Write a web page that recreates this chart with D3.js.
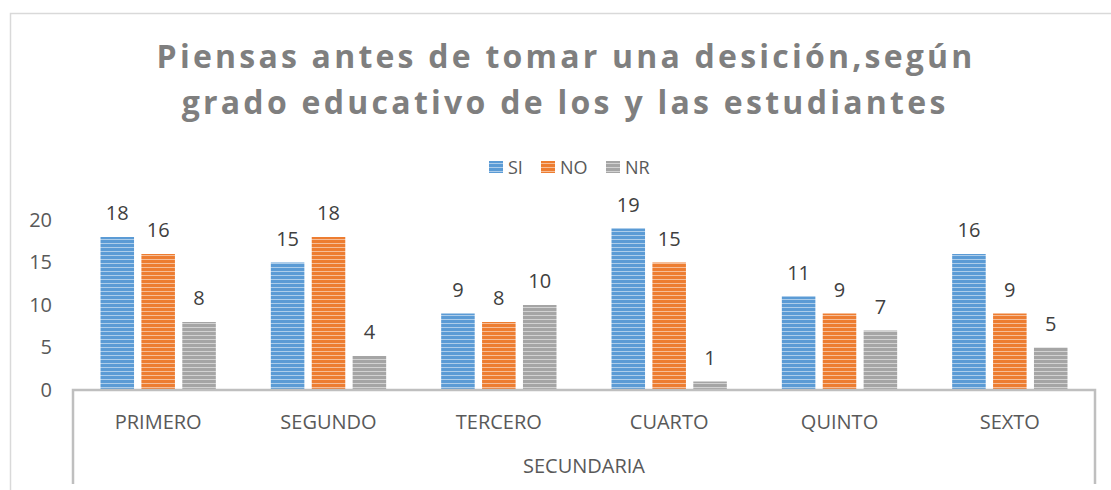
<!DOCTYPE html>
<html><head><meta charset="utf-8">
<script src="https://cdn.jsdelivr.net/npm/d3@7"></script>
<style>body{margin:0;background:#fff}svg{display:block}</style>
</head><body>
<svg id="c" width="1111" height="490"></svg>
<script>
const categories = ["PRIMERO","SEGUNDO","TERCERO","CUARTO","QUINTO","SEXTO"];
const seriesNames = ["SI","NO","NR"];
const siValues = [18,15,9,19,11,16];
const noValues = [16,18,8,15,9,9];
const nrValues = [8,4,10,1,7,5];
const yTicks = [0,5,10,15,20];
const groupLabel = "SECUNDARIA";
const titleLines = ["Piensas antes de tomar una desición,según","grado educativo de los y las estudiantes"];

const colors = {SI:"#5b9bd5", NO:"#ed7d31", NR:"#a5a5a5"};
const values = {SI:siValues, NO:noValues, NR:nrValues};
const svg = d3.select("#c");
const font = "'Open Sans', sans-serif";

// patterns
const defs = svg.append("defs");
seriesNames.forEach(s => {
  const p = defs.append("pattern").attr("id","p"+s).attr("patternUnits","userSpaceOnUse")
    .attr("width",8).attr("height",4);
  p.append("rect").attr("width",8).attr("height",4).attr("fill",colors[s]);
  p.append("rect").attr("y",3).attr("width",8).attr("height",1).attr("fill","#fff").attr("opacity",0.5);
});

// chart border
svg.append("rect").attr("x",10.5).attr("y",13.5).attr("width",1200).attr("height",600)
  .attr("fill","none").attr("stroke","#d9d9d9").attr("stroke-width",1.5);

// title
const titleTargets = [[155,974],[180,947]];
const titleY = [68,114];
titleLines.forEach((t,i) => {
  const el = svg.append("text").attr("x",(titleTargets[i][0]+titleTargets[i][1])/2).attr("y",titleY[i])
    .attr("text-anchor","middle").attr("font-family",font).attr("font-weight","bold")
    .attr("font-size",32).attr("fill","#7f7f7f").text(t);
  const w = el.node().getComputedTextLength();
  const target = titleTargets[i][1]-titleTargets[i][0];
  const ls = (target - w)/(t.length);
  el.attr("letter-spacing",ls).attr("dx", ls/2);
});

// legend
const legendItems = [{s:"SI",x:489},{s:"NO",x:541},{s:"NR",x:606}];
legendItems.forEach(d => {
  svg.append("rect").attr("x",d.x).attr("y",161).attr("width",14).attr("height",12).attr("fill","url(#p"+d.s+")");
  svg.append("text").attr("x",d.x+19).attr("y",174).attr("font-family",font).attr("font-size",18)
    .attr("fill","#595959").text(d.s);
});

// scales
const left = 73, right = 1095, base = 390;
const y = d3.scaleLinear().domain([0,20]).range([base,220]);
const x0 = d3.scaleBand().domain(categories).range([left,right]);
const x1 = d3.scaleBand().domain(seriesNames).range([27.5, x0.bandwidth()-27.5]).paddingInner(0.18);

// y axis labels
const yAxis = d3.axisLeft(y).tickValues(yTicks).tickSize(0).tickPadding(0);
const ya = svg.append("g").attr("transform","translate(52,0)").call(yAxis);
ya.select(".domain").remove();
ya.selectAll("text").attr("font-family",font).attr("font-size",20).attr("fill","#595959");

// bars
const g = svg.append("g");
categories.forEach((c,ci) => {
  seriesNames.forEach(s => {
    const v = values[s][ci];
    const bx = x0(c)+x1(s);
    g.append("rect").attr("x",bx).attr("y",y(v)).attr("width",x1.bandwidth()).attr("height",base-y(v))
      .attr("fill","url(#p"+s+")");
    g.append("text").attr("x",bx+x1.bandwidth()/2).attr("y",y(v)-17).attr("text-anchor","middle")
      .attr("font-family",font).attr("font-size",20).attr("fill","#404040").text(v);
  });
});

// x axis: baseline and group box
const xAxis = d3.axisBottom(x0).tickSize(0).tickPadding(0);
const xa = svg.append("g").attr("transform",`translate(0,${base})`).call(xAxis);
xa.select(".domain").remove();
xa.selectAll("text").attr("dy",0).attr("y",39).attr("font-family",font).attr("font-size",20).attr("fill","#595959");

svg.append("path").attr("d",`M${left},484V${base}H${right}V484`).attr("fill","none")
  .attr("stroke","#bfbfbf").attr("stroke-width",2.5);

svg.append("text").attr("x",(left+right)/2).attr("y",473).attr("text-anchor","middle")
  .attr("font-family",font).attr("font-size",20).attr("fill","#595959").text(groupLabel);
</script>
</body></html>
